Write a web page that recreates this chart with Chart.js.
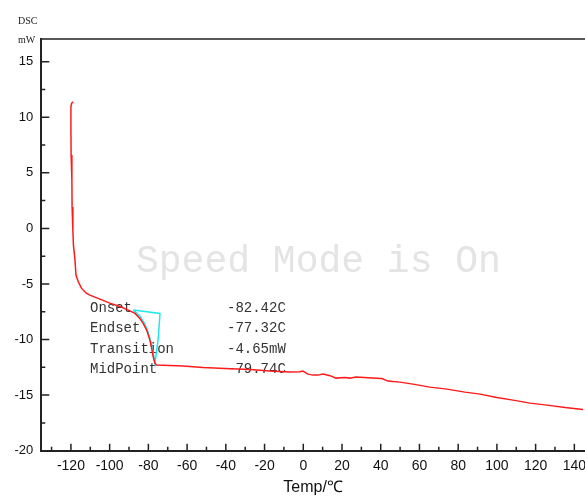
<!DOCTYPE html>
<html lang="en">
<head>
    <meta charset="UTF-8">
    <title>DSC</title>
    <style>
        html, body {
            margin: 0;
            padding: 0;
            background: #fff;
            overflow: hidden;
        }
        #wrap {
            width: 585px;
            height: 496px;
        }
    </style>
</head>
<body>
    <div id="wrap"><canvas id="chart" width="585" height="496"></canvas></div>

    <script src="https://cdn.jsdelivr.net/npm/chart.js"></script>
    <script>
        // DSC curve (temp in C, heat flow in mW)
        const temp = [-118.8, -119.6, -120.0, -120.0, -119.9, -119.5, -119.4, -119.0, -118.7, -117.9,
            -117.4, -116.2, -114.5, -111.9, -110.2, -105.0, -99.9, -94.7, -90.4, -86.9,
            -84.4, -82.7, -80.9, -79.2, -78.3, -77.5, -76.6, -75.7, -62.1, -51.8,
            -40.5, -27.5, -17.2, -6.9, -1.7, -0.2, 2.4, 5.0, 7.6, 10.2,
            13.8, 16.9, 21.5, 24.1, 27.2, 35.5, 40.6, 43.7, 49.9, 56.6,
            65.4, 74.2, 83.5, 91.3, 100.0, 108.3, 117.1, 125.9, 135.2, 144.5];
        const dsc = [11.40, 11.26, 10.95, 8.85, 6.60, 4.35, 1.92, -0.15, -1.50, -2.85,
            -4.20, -4.80, -5.40, -5.85, -6.00, -6.36, -6.72, -7.03, -7.35, -7.65,
            -8.10, -8.55, -9.15, -10.05, -10.80, -11.55, -12.15, -12.30, -12.39, -12.52,
            -12.61, -12.70, -12.84, -12.93, -12.90, -12.84, -13.11, -13.20, -13.20, -13.11,
            -13.25, -13.47, -13.42, -13.47, -13.38, -13.47, -13.51, -13.74, -13.83, -14.01,
            -14.28, -14.46, -14.73, -14.91, -15.22, -15.45, -15.72, -15.90, -16.12, -16.30];

        // glass transition marker (cyan outline)
        const markTemp = [-87.8, -74.0, -74.9, -76.6, -77.4, -78.4, -80.0, -81.8, -84.4, -87.8];
        const markDsc = [-7.35, -7.65, -9.90, -12.15, -11.31, -10.41, -9.42, -8.61, -7.89, -7.35];

        const annoNames = ['Onset', 'Endset', 'Transition', 'MidPoint'];
        const annoValues = ['-82.42C', '-77.32C', '-4.65mW', '-79.74C'];

        const xMajor = [-120, -100, -80, -60, -40, -20, 0, 20, 40, 60, 80, 100, 120, 140];
        const xMinor = [-130, -110, -90, -70, -50, -30, -10, 10, 30, 50, 70, 90, 110, 130];
        const yMajor = [-20, -15, -10, -5, 0, 5, 10, 15];
        const yMinor = [-17.5, -12.5, -7.5, -2.5, 2.5, 7.5, 12.5];

        const toPoints = (xs, ys) => xs.map((v, i) => ({ x: v, y: ys[i] }));

        const decor = {
            id: 'decor',
            beforeDatasetsDraw(chart) {
                const ctx = chart.ctx;
                ctx.save();
                ctx.font = '38px "Liberation Mono"';
                ctx.fillStyle = '#e4e4e4';
                ctx.textBaseline = 'alphabetic';
                ctx.fillText('Speed Mode is On', 136, 272);

                ctx.font = '14px "Liberation Mono"';
                ctx.fillStyle = '#333';
                ctx.textBaseline = 'middle';
                annoNames.forEach((n, i) => {
                    ctx.fillText(n, 90, 308 + i * 20.4);
                    ctx.fillText(annoValues[i], 227, 308 + i * 20.4);
                });
                ctx.restore();
            },
            afterDraw(chart) {
                const { ctx, chartArea: a, scales: { x, y } } = chart;
                ctx.save();
                ctx.strokeStyle = '#222';
                ctx.lineWidth = 1.5;
                ctx.beginPath();
                ctx.moveTo(a.left, a.top);
                ctx.lineTo(a.right, a.top);
                xMajor.forEach(v => {
                    const p = x.getPixelForValue(v);
                    ctx.moveTo(p, a.bottom);
                    ctx.lineTo(p, a.bottom - 7);
                });
                xMinor.forEach(v => {
                    const p = x.getPixelForValue(v);
                    ctx.moveTo(p, a.bottom);
                    ctx.lineTo(p, a.bottom - 4);
                });
                yMajor.forEach(v => {
                    const p = y.getPixelForValue(v);
                    ctx.moveTo(a.left, p);
                    ctx.lineTo(a.left + 8, p);
                });
                yMinor.forEach(v => {
                    const p = y.getPixelForValue(v);
                    ctx.moveTo(a.left, p);
                    ctx.lineTo(a.left + 4, p);
                });
                ctx.stroke();

                ctx.font = '10px "Liberation Serif"';
                ctx.fillStyle = '#222';
                ctx.textBaseline = 'middle';
                ctx.fillText('DSC', 18, 21);
                ctx.fillText('mW', 18, 40);
                ctx.restore();
            }
        };

        new Chart(document.getElementById('chart'), {
            type: 'scatter',
            data: {
                datasets: [{
                    data: toPoints(temp, dsc),
                    showLine: true,
                    borderColor: '#ff1a1a',
                    borderWidth: 1.5,
                    pointRadius: 0,
                    tension: 0
                }, {
                    data: toPoints(markTemp, markDsc),
                    showLine: true,
                    borderColor: '#22e6ee',
                    borderWidth: 1.5,
                    pointRadius: 0,
                    tension: 0
                }]
            },
            options: {
                responsive: false,
                animation: false,
                layout: { padding: { top: 39, left: 0, right: 0, bottom: 0 } },
                plugins: { legend: { display: false }, tooltip: { enabled: false } },
                scales: {
                    x: {
                        type: 'linear',
                        min: -135.3,
                        max: 145.5,
                        offset: false,
                        afterBuildTicks: s => { s.ticks = xMajor.map(v => ({ value: v })); },
                        afterFit: s => { s.height = 45.3; s.paddingLeft = 0; s.paddingRight = 0; },
                        grid: { drawOnChartArea: false, drawTicks: false },
                        border: { display: true, color: '#222', width: 2 },
                        ticks: { color: '#111', padding: 7, maxRotation: 0, autoSkip: false, font: { family: 'Arial', size: 14 } },
                        title: { display: true, text: 'Temp/℃', color: '#111', padding: 0, font: { family: 'Arial', size: 16, lineHeight: 1 } }
                    },
                    y: {
                        min: -20,
                        max: 17.04,
                        afterBuildTicks: s => { s.ticks = yMajor.map(v => ({ value: v })); },
                        afterFit: s => { s.width = 41.3; s.paddingTop = 0; s.paddingBottom = 0; },
                        grid: { drawOnChartArea: false, drawTicks: false },
                        border: { display: true, color: '#222', width: 2 },
                        ticks: { color: '#111', padding: 8, autoSkip: false, font: { family: 'Arial', size: 13 } }
                    }
                }
            },
            plugins: [decor]
        });
    </script>
</body>
</html>
